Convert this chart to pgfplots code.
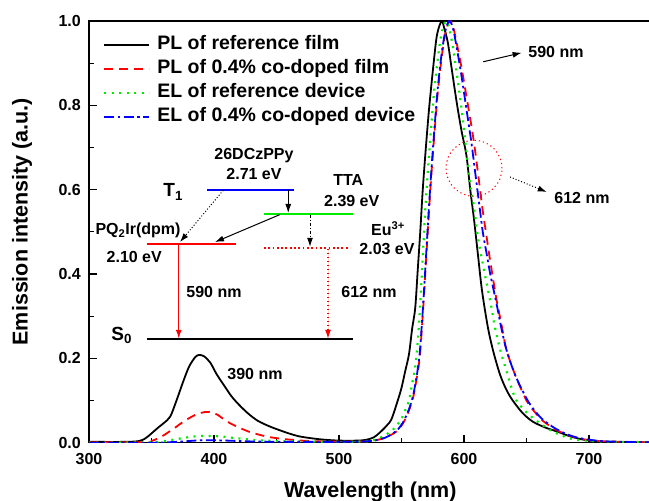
\documentclass[border=0pt]{standalone}
\usepackage{fontspec}
\setmainfont{Liberation Sans}
\usepackage{pgfplots}
\pgfplotsset{compat=1.18}
\usetikzlibrary{arrows.meta}
\definecolor{myred}{RGB}{255,0,0}
\definecolor{mygreen}{RGB}{0,235,0}
\definecolor{myblue}{RGB}{0,0,255}
\newcommand{\fs}[1]{\fontsize{#1}{#1}\selectfont\bfseries}
\tikzset{arr/.style={-{Latex[length=9pt,width=6pt]}}}
\begin{document}
\begin{tikzpicture}[font=\bfseries]
\begin{axis}[name=ax, scale only axis, width=562.5pt, height=421.7pt,
 xmin=300, xmax=750, ymin=0, ymax=1,
 xtick={300,400,500,600,700}, ytick={0,0.2,0.4,0.6,0.8,1.0},
 minor x tick num=1, minor y tick num=1,
 tick align=inside, tick pos=left,
 major tick length=8pt, minor tick length=5pt,
 every tick/.style={black, line width=1.3pt},
 axis line style={line width=1.6pt},
 /pgf/number format/assume math mode=true,
 ticklabel style={font=\fs{16}},
 yticklabel style={/pgf/number format/.cd, fixed, fixed zerofill, precision=1, /tikz/.cd, xshift=-4.7pt},
 xticklabel style={yshift=-7pt},
 xlabel={Wavelength (nm)}, ylabel={Emission intensity (a.u.)},
 label style={font=\fs{21.5}},
 xlabel style={at={(axis description cs:0.5,-0.1311)}, anchor=base},
 ylabel style={at={(axis description cs:-0.1191,0.524)}, anchor=center},
 legend cell align=left,
 legend style={at={(axis description cs:0,1)}, anchor=north west, xshift=14pt, yshift=-14.8pt,
   draw=none, fill=none, inner sep=0pt, font=\fs{19.5}, row sep=6pt, column sep=7pt,
   nodes={inner sep=0pt, text height=14pt, text depth=4pt}},
 legend image code/.code={\draw[#1] (0pt,0pt) -- (45pt,0pt);},
]
\addplot[color=black, line width=1.8pt, smooth] coordinates {
(300,0.002) (330,0.002) (340,0.004) (345,0.01) (350,0.022) (355,0.035) (360,0.047)
(365,0.062) (370,0.1) (375,0.142) (380,0.18) (385,0.203) (388,0.208) (392,0.205)
(397,0.19) (402,0.163) (408,0.136) (414,0.11) (420,0.09) (427,0.07) (435,0.052)
(445,0.038) (455,0.027) (462,0.02) (470,0.014) (485,0.008) (500,0.005) (515,0.005)
(522,0.007) (528,0.013) (533,0.025) (538,0.04) (542,0.056) (547,0.1) (550,0.13)
(553,0.17) (556,0.21) (558.5,0.27) (561,0.32) (563,0.41) (565,0.5) (567,0.6)
(569.5,0.7) (572,0.79) (575,0.88) (578,0.96) (580.5,0.99) (582.5,1.0) (584,0.985)
(587,0.95) (590,0.89) (594,0.81) (598,0.74) (602,0.68) (605,0.6) (608,0.53)
(611,0.45) (614,0.37) (617,0.31) (620,0.26) (624,0.21) (629,0.16) (634,0.125)
(639,0.1) (647,0.07) (655,0.05) (665,0.036) (675,0.026) (685,0.015) (698,0.006)
(715,0.002) (750,0.001)};
\addlegendentry{PL of reference film}
\addplot[color=myred, line width=1.8pt, dash pattern=on 9pt off 6pt, smooth] coordinates {
(300,0.001) (345,0.001) (350,0.004) (355,0.01) (360,0.018) (365,0.028) (370,0.038)
(375,0.049) (380,0.058) (385,0.066) (390,0.071) (394,0.073) (398,0.072) (403,0.066)
(408,0.055) (413,0.046) (420,0.036) (428,0.026) (436,0.019) (445,0.013) (455,0.009)
(470,0.005) (490,0.003) (520,0.003) (530,0.006) (537,0.012) (542,0.019) (547,0.029)
(551,0.045) (554,0.062) (557,0.085) (559.5,0.11) (562,0.15) (564.5,0.2) (566.5,0.28)
(568,0.35) (570,0.45) (572,0.55) (574,0.64) (576.5,0.74) (579,0.83) (582,0.91)
(585,0.97) (588.5,1.0) (591,0.99) (594,0.95) (598,0.89) (602,0.82) (606,0.75)
(609,0.69) (612,0.62) (615,0.55) (618,0.49) (621,0.43) (626,0.34) (630,0.28)
(634,0.22) (641,0.16) (650,0.1) (656,0.075) (663,0.052) (674,0.03) (686,0.015)
(698,0.007) (715,0.003) (750,0.001)};
\addlegendentry{PL of 0.4\% co-doped film}
\addplot[color=mygreen, line width=2.2pt, dash pattern=on 2pt off 5.5pt, smooth] coordinates {
(300,0.0) (350,0.001) (365,0.006) (375,0.011) (385,0.015) (395,0.016) (405,0.015)
(420,0.01) (440,0.005) (470,0.003) (500,0.002) (520,0.003) (528,0.006) (533,0.012)
(538,0.02) (543,0.03) (546,0.042) (549.3,0.052) (552,0.07) (556,0.1) (558.5,0.14)
(561,0.18) (563,0.24) (565,0.33) (567,0.44) (569,0.55) (571,0.64) (573.5,0.74)
(576,0.83) (579,0.91) (582,0.97) (585.5,1.0) (588,0.985) (591,0.94) (595,0.86)
(598.5,0.78) (601.6,0.7) (605,0.61) (608,0.56) (611,0.49) (614,0.44) (618,0.38)
(622,0.32) (625,0.27) (629,0.22) (634,0.17) (638,0.13) (642,0.1) (650,0.072)
(658,0.052) (669,0.03) (680,0.015) (690,0.007) (710,0.003) (750,0.001)};
\addlegendentry{EL of reference device}
\addplot[color=myblue, line width=1.8pt, dash pattern=on 10pt off 3.5pt on 2.5pt off 3.5pt, smooth] coordinates {
(300,0.0) (350,0.0) (370,0.002) (385,0.005) (395,0.006) (410,0.005) (430,0.003)
(460,0.002) (500,0.002) (520,0.003) (530,0.006) (537,0.012) (542,0.02) (547,0.031)
(551,0.047) (554,0.065) (557,0.088) (559.5,0.115) (562,0.155) (564.5,0.21)
(566.5,0.29) (568,0.36) (570,0.46) (572,0.56) (574,0.65) (576.5,0.75) (579,0.84)
(582,0.92) (585,0.975) (588,1.0) (591,0.985) (594,0.94) (598,0.87) (602,0.79)
(606,0.71) (609,0.64) (612,0.57) (615,0.5) (618,0.45) (621,0.4) (626,0.33)
(630,0.27) (634,0.22) (641,0.16) (650,0.105) (656,0.078) (663,0.055) (674,0.032)
(686,0.016) (698,0.008) (715,0.003) (750,0.001)};
\addlegendentry{EL of 0.4\% co-doped device}
% energy level inset
\draw[myblue, line width=1.8pt] (axis cs:394.8,0.5986) -- (axis cs:464,0.5986);
\draw[mygreen, line width=2.2pt] (axis cs:440,0.5432) -- (axis cs:511.4,0.5432);
\draw[myred, line width=2.2pt] (axis cs:346.2,0.472) -- (axis cs:417.6,0.472);
\draw[myred, line width=1.8pt, dash pattern=on 1.8pt off 2.5pt] (axis cs:440,0.4625) -- (axis cs:508.8,0.4625);
\draw[black, line width=1.4pt] (axis cs:346.6,0.2463) -- (axis cs:511.4,0.2463);
\draw[draw=myred, fill=myred, line width=1.4pt, arr] (axis cs:371.8,0.47) -- (axis cs:371.8,0.2463);
\draw[draw=myred, fill=myred, line width=1.2pt, dash pattern=on 1.5pt off 2.5pt, arr] (axis cs:491.2,0.46) -- (axis cs:491.2,0.2463);
\draw[black, line width=1pt, dotted, arr] (axis cs:407.4,0.5986) -- (axis cs:372.8,0.4758);
\draw[black, line width=1pt, arr] (axis cs:459.4,0.5986) -- (axis cs:459.4,0.5447);
\draw[black, line width=1pt, arr] (axis cs:452.8,0.541) -- (axis cs:400.8,0.4758);
\draw[black, line width=1pt, dash pattern=on 3pt off 2pt on 1pt off 2pt, arr] (axis cs:476.8,0.541) -- (axis cs:476.8,0.4645);
\node[font=\fs{16}] at (axis cs:432,0.6817) {26DCzPPy};
\node[font=\fs{16}] at (axis cs:432,0.6366) {2.71 eV};
\node[font=\fs{19}] at (axis cs:367.4,0.5945) {T\textsubscript{1}};
\node[font=\fs{16}] at (axis cs:507.4,0.6223) {TTA};
\node[font=\fs{16}] at (axis cs:510.2,0.5732) {2.39 eV};
\node[font=\fs{16}] at (axis cs:339.2,0.5036) {PQ\textsubscript{2}Ir(dpm)};
\node[font=\fs{16}] at (axis cs:336.2,0.4401) {2.10 eV};
\node[font=\fs{16}] at (axis cs:539.2,0.5083) {Eu\textsuperscript{3+}};
\node[font=\fs{16}] at (axis cs:538.4,0.4601) {2.03 eV};
\node[font=\fs{16}] at (axis cs:400,0.357) {590 nm};
\node[font=\fs{16}] at (axis cs:524,0.357) {612 nm};
\node[font=\fs{19}] at (axis cs:326.2,0.2542) {S\textsubscript{0}};
\node[font=\fs{16}] at (axis cs:432.8,0.1632) {390 nm};
\node[font=\fs{16}] at (axis cs:673.6,0.9271) {590 nm};
\draw[black, line width=1pt, arr] (axis cs:615.4,0.9033) -- (axis cs:646.1,0.9247);
\node[font=\fs{16}] at (axis cs:694.4,0.5812) {612 nm};
\draw[black, line width=1pt, dotted, arr] (axis cs:636.8,0.6302) -- (axis cs:666.2,0.5945);
\draw[myred, line width=1pt, dash pattern=on 1.2pt off 3pt] (axis cs:608,0.6508) circle (28pt);
\end{axis}
\pgfresetboundingbox
\path[use as bounding box] ([xshift=-89pt,yshift=-58.3pt]ax.south west) rectangle ([xshift=-2.5pt,yshift=21pt]ax.north east);
\end{tikzpicture}
\end{document}
